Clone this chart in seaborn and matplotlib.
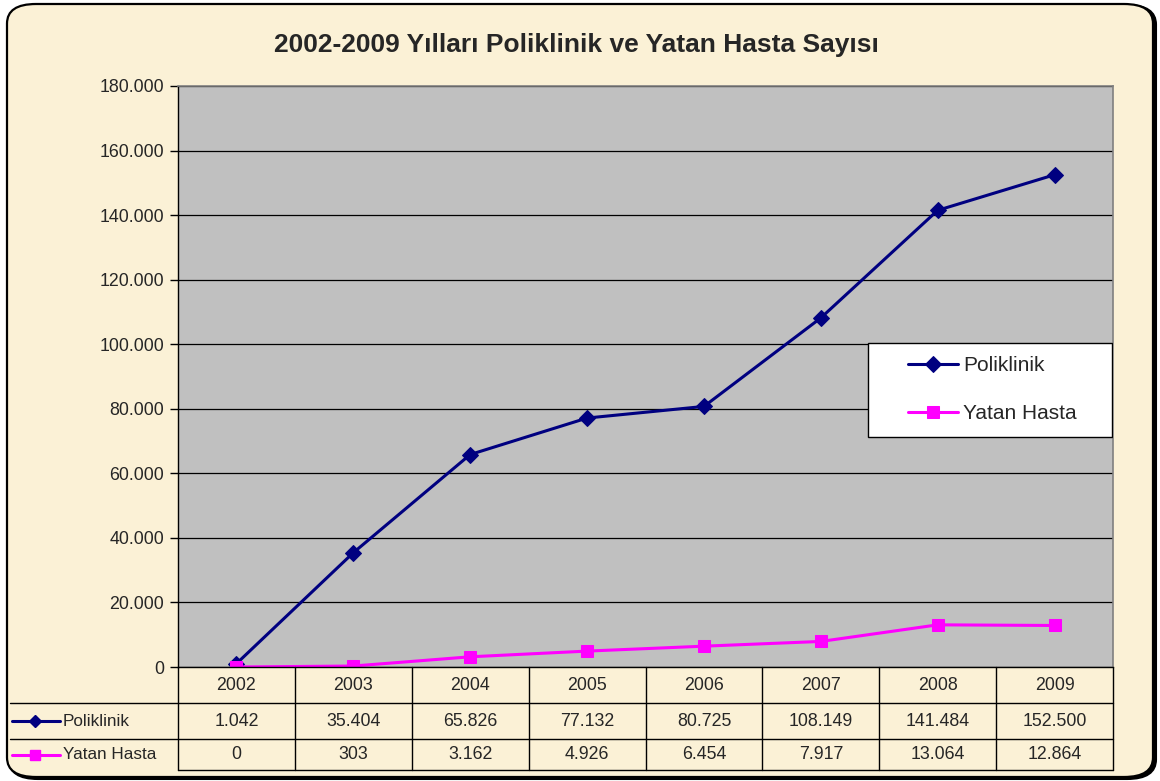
import numpy as np
import pandas as pd
import matplotlib
matplotlib.use("Agg")
import matplotlib.pyplot as plt
import seaborn as sns
from matplotlib.patches import FancyBboxPatch, Rectangle
from matplotlib.lines import Line2D
from matplotlib.ticker import FuncFormatter, MultipleLocator

# --- data ---
years = ["2002", "2003", "2004", "2005", "2006", "2007", "2008", "2009"]
poliklinik = [1042, 35404, 65826, 77132, 80725, 108149, 141484, 152500]
yatan_hasta = [0, 303, 3162, 4926, 6454, 7917, 13064, 12864]
series_names = ["Poliklinik", "Yatan Hasta"]

title = "2002-2009 Yılları Poliklinik ve Yatan Hasta Sayısı"

navy = "#000080"
magenta = "#FF00FF"
parchment = "#FBF1D6"

sns.set_style("white")
plt.rcParams["font.family"] = ["Liberation Sans", "DejaVu Sans"]


def tr_num(v):
    return f"{int(round(v)):,}".replace(",", ".")


fig = plt.figure(figsize=(11.6, 7.81), dpi=100)
fig.patch.set_facecolor("white")

# rounded parchment frame with a small shadow
W, H = 1160, 781
shadow = FancyBboxPatch((9 / W, 2 / H), 1147 / W, 774 / H,
                        boxstyle="round,pad=0,rounding_size=0.025",
                        transform=fig.transFigure, facecolor="black",
                        edgecolor="black", lw=1.5, zorder=0)
frame = FancyBboxPatch((7 / W, 4 / H), 1146 / W, 773 / H,
                       boxstyle="round,pad=0,rounding_size=0.025",
                       transform=fig.transFigure, facecolor=parchment,
                       edgecolor="black", lw=1.6, zorder=1)
fig.add_artist(shadow)
fig.add_artist(frame)

ax = fig.add_axes([178 / W, 1 - 667 / H, 935 / W, 581 / H])
ax.set_facecolor("#C0C0C0")
ax.set_zorder(2)

x = np.arange(len(years))
df = pd.DataFrame({"pos": x, series_names[0]: poliklinik, series_names[1]: yatan_hasta})

sns.lineplot(data=df, x="pos", y=series_names[0], ax=ax, color=navy, lw=2.2,
             marker="D", markersize=8, markeredgecolor=navy, label=series_names[0])
sns.lineplot(data=df, x="pos", y=series_names[1], ax=ax, color=magenta, lw=2.2,
             marker="s", markersize=9, markeredgecolor=magenta, label=series_names[1])

ax.set_xlim(-0.5, len(years) - 0.5)
ax.set_ylim(0, 180000)
ax.yaxis.set_major_locator(MultipleLocator(20000))
ax.yaxis.set_major_formatter(FuncFormatter(lambda v, p: tr_num(v)))
ax.set_xticks([])
ax.set_xlabel("")
ax.set_ylabel("")
ax.grid(axis="y", color="black", lw=0.9)
ax.set_axisbelow(True)
ax.tick_params(axis="y", direction="out", length=6, width=1, color="black",
               labelsize=12.8, pad=4, left=True)
for s in ["top", "right"]:
    ax.spines[s].set_color("#808080")
    ax.spines[s].set_linewidth(1.2)
for s in ["left", "bottom"]:
    ax.spines[s].set_color("black")
    ax.spines[s].set_linewidth(1)

fig.text(576 / W, 1 - 45 / H, title, fontsize=19, fontweight="bold",
         ha="center", va="center")

# legend box (white, black border) with the entries inside
ax.add_patch(Rectangle((0.738, 0.396), 0.261, 0.162, transform=ax.transAxes,
                       facecolor="white", edgecolor="black", lw=1, zorder=5))
leg = ax.legend(loc="upper left", bbox_to_anchor=(0.781, 0.535),
                frameon=False, fontsize=15, handlelength=2.4, labelspacing=1.4,
                borderpad=0, borderaxespad=0, handletextpad=0.25)
leg.set_zorder(6)

# --- data table under the plot ---
tr = ax.get_xaxis_transform()
left_x = -0.5 - 168 / 116.9
row_lines = [-0.062, -0.124]
bottom_y = -0.177
for yy in row_lines:
    ax.add_line(Line2D([left_x, len(years) - 0.5], [yy, yy], transform=tr,
                       color="black", lw=1, clip_on=False))
ax.add_line(Line2D([-0.5, len(years) - 0.5], [bottom_y, bottom_y], transform=tr,
                   color="black", lw=1, clip_on=False))
for i in range(len(years) + 1):
    ax.add_line(Line2D([i - 0.5, i - 0.5], [0, bottom_y], transform=tr,
                       color="black", lw=1, clip_on=False))

row_y = [-0.031, -0.093, -0.151]
for i, yr in enumerate(years):
    ax.text(i, row_y[0], yr, transform=tr, ha="center", va="center", fontsize=12.8)
    ax.text(i, row_y[1], tr_num(poliklinik[i]), transform=tr, ha="center",
            va="center", fontsize=12.8)
    ax.text(i, row_y[2], tr_num(yatan_hasta[i]), transform=tr, ha="center",
            va="center", fontsize=12.8)

def px_to_x(px):
    return (px - 178) / 116.9 - 0.5

keys = [(navy, "D", 6, series_names[0]), (magenta, "s", 7.5, series_names[1])]
for (col, mk, ms, name), yy in zip(keys, row_y[1:]):
    ax.add_line(Line2D([px_to_x(12), px_to_x(60)], [yy, yy], transform=tr,
                       color=col, lw=2.2, clip_on=False))
    ax.add_line(Line2D([px_to_x(35)], [yy], transform=tr, color=col, marker=mk,
                       markersize=ms, markeredgecolor=col, lw=0, clip_on=False))
    ax.text(px_to_x(63), yy, name, transform=tr, ha="left", va="center",
            fontsize=12.3)

fig.savefig("out.png", dpi=100, facecolor=fig.get_facecolor())
